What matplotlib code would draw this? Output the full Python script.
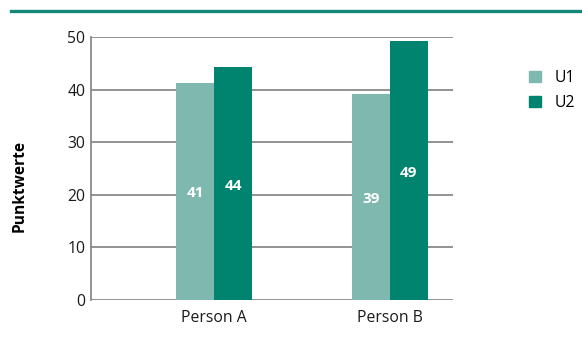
import numpy as np
import matplotlib
matplotlib.use("Agg")
from matplotlib import pyplot as plt
from matplotlib.patches import Patch
from matplotlib.lines import Line2D

# data
persons = ["Person A", "Person B"]
series = ["U1", "U2"]
u1 = [41.3, 39.2]
u2 = [44.3, 49.2]
u1_labels = ["41", "39"]
u2_labels = ["44", "49"]

light = "#7fb8ae"
dark = "#008470"

plt.rcParams['font.family'] = ['Open Sans', 'DejaVu Sans']

fig = plt.figure(figsize=(5.82, 3.44), dpi=100)
ax = fig.add_axes([0.1564, 0.1279, 0.6216, 0.7645])

# top rule
fig.add_artist(Line2D([11/582, 1.0], [1 - 11/344, 1 - 11/344], color="#138a78", lw=2.4))

x = np.arange(len(persons))
w = 0.216
b1 = ax.bar(x - w/2, u1, w, color=light, zorder=3)
b2 = ax.bar(x + w/2, u2, w, color=dark, zorder=3)

for bars, labs in [(b1, u1_labels), (b2, u2_labels)]:
    for bar, lab in zip(bars, labs):
        ax.text(bar.get_x() + bar.get_width()/2, bar.get_height()/2 - 0.4, lab,
                ha="center", va="center", color="white", fontsize=11,
                fontweight="bold", zorder=4)

ax.set_ylim(0, 50)
ax.set_xlim(-0.70, 1.358)
ax.set_yticks(range(0, 51, 10))
ax.set_xticks(x)
ax.set_xticklabels(persons)
ax.tick_params(axis="both", length=0, labelsize=11.3, colors="#1a1a1a", pad=7)
ax.tick_params(axis="y", pad=4)
ax.yaxis.grid(True, color="#808080", lw=1.2, zorder=0)
for s in ["top", "right", "bottom"]:
    ax.spines[s].set_visible(False)
ax.spines["left"].set_color("#808080")
ax.spines["left"].set_linewidth(1.2)
ax.set_ylabel("Punktwerte", fontsize=11.2, fontweight="bold")
ax.yaxis.set_label_coords(-0.175, 0.435)

handles = [Patch(color=light), Patch(color=dark)]
fig.legend(handles, series, loc="upper left", bbox_to_anchor=(0.895, 0.82),
           frameon=False, fontsize=11.3, handlelength=0.75, handleheight=0.75,
           handletextpad=0.9, labelspacing=0.6, borderpad=0)

plt.savefig("out.png", dpi=100)
